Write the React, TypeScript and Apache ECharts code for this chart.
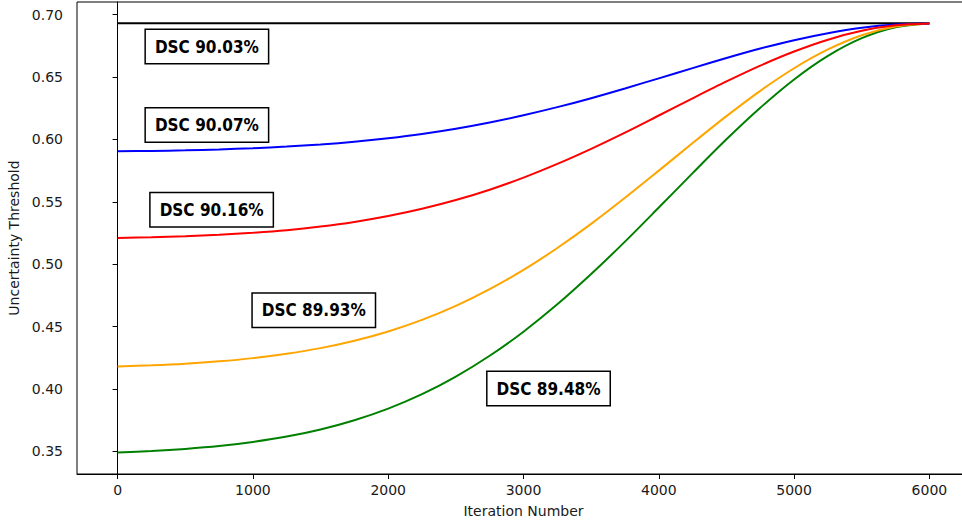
import React, { useEffect, useRef } from "react";
import * as echarts from "echarts";

const iterations = [0, 250, 500, 750, 1000, 1250, 1500, 1750, 2000, 2250, 2500, 2750, 3000, 3250, 3500, 3750, 4000, 4250, 4500, 4750, 5000, 5250, 5500, 5750, 6000];
const blackIterations = [0, 6000];
const blackValues = [0.6931, 0.6931];
const blueValues = [0.5905, 0.5908, 0.5913, 0.592, 0.593, 0.5943, 0.596, 0.5982, 0.601, 0.6044, 0.6086, 0.6136, 0.6194, 0.6259, 0.6331, 0.6409, 0.649, 0.6572, 0.6653, 0.6729, 0.6796, 0.6852, 0.6895, 0.6921, 0.693];
const redValues = [0.521, 0.5216, 0.5224, 0.5236, 0.5252, 0.5273, 0.5302, 0.5339, 0.5386, 0.5444, 0.5514, 0.5597, 0.5694, 0.5804, 0.5925, 0.6055, 0.6192, 0.633, 0.6465, 0.6592, 0.6705, 0.68, 0.6871, 0.6915, 0.693];
const orangeValues = [0.418, 0.4189, 0.4202, 0.4221, 0.4247, 0.4282, 0.4327, 0.4386, 0.4461, 0.4554, 0.4666, 0.48, 0.4954, 0.513, 0.5323, 0.5532, 0.575, 0.5971, 0.6187, 0.639, 0.6571, 0.6722, 0.6836, 0.6906, 0.693];
const greenValues = [0.349, 0.3502, 0.3519, 0.3542, 0.3575, 0.3618, 0.3675, 0.3749, 0.3842, 0.3958, 0.4099, 0.4266, 0.4459, 0.4678, 0.4921, 0.5181, 0.5454, 0.573, 0.6001, 0.6254, 0.6481, 0.667, 0.6812, 0.69, 0.693];

const xTicks = [0, 1000, 2000, 3000, 4000, 5000, 6000];
const yTicks = [0.35, 0.4, 0.45, 0.5, 0.55, 0.6, 0.65, 0.7];

const noteTexts = ["DSC 90.03%", "DSC 90.07%", "DSC 90.16%", "DSC 89.93%", "DSC 89.48%"];
const noteX = [660, 660, 695, 1450, 3185];
const noteY = [0.6745, 0.6115, 0.5437, 0.4631, 0.4003];

const pairs = (xs: number[], vals: number[]) => xs.map((x, i) => [x, vals[i]]);

export default function App() {
  const ref = useRef<HTMLDivElement>(null);
  useEffect(() => {
    if (!ref.current) return;
    const chart = echarts.init(ref.current, undefined, { renderer: "svg" });
    const lineSeries = (name: string, xs: number[], vals: number[], color: string) => ({
      name,
      type: "line",
      data: pairs(xs, vals),
      smooth: 0.3,
      showSymbol: false,
      symbol: "none",
      lineStyle: { color, width: 2 },
      itemStyle: { color },
      silent: true,
    });
    const axisText = { color: "#1a1a1a", fontFamily: "DejaVu Sans", fontSize: 14 };
    chart.setOption({
      animation: false,
      backgroundColor: "#ffffff",
      grid: {
        left: 77,
        top: 2,
        right: -8,
        bottom: 53,
        show: true,
        borderColor: "#000",
        borderWidth: 1,
        containLabel: false,
        outerBoundsMode: "none",
      },
      xAxis: {
        type: "value",
        min: -300,
        max: 6300,
        name: "Iteration Number",
        nameLocation: "middle",
        nameGap: 30,
        nameTextStyle: axisText,
        axisLine: { show: true, lineStyle: { color: "#000", width: 1 } },
        axisTick: { show: true, inside: false, length: 5, customValues: xTicks, lineStyle: { color: "#000" } },
        axisLabel: { ...axisText, margin: 9, customValues: xTicks, formatter: (v: number) => String(v) },
        splitLine: { show: false },
      },
      yAxis: {
        type: "value",
        min: 0.3318,
        max: 0.7102,
        name: "Uncertainty Threshold",
        nameLocation: "middle",
        nameGap: 53,
        nameRotate: 90,
        nameTextStyle: axisText,
        axisLine: { show: true, lineStyle: { color: "#000", width: 1 } },
        axisTick: { show: true, inside: false, length: 5, customValues: yTicks, lineStyle: { color: "#000" } },
        axisLabel: { ...axisText, margin: 14, customValues: yTicks, formatter: (v: number) => v.toFixed(2) },
        splitLine: { show: false },
      },
      series: [
        lineSeries("black", blackIterations, blackValues, "#000000"),
        lineSeries("green", iterations, greenValues, "#008000"),
        lineSeries("orange", iterations, orangeValues, "#ffa500"),
        lineSeries("blue", iterations, blueValues, "#0000ff"),
        lineSeries("red", iterations, redValues, "#ff0000"),
      ],
    });
    const notes = noteTexts.map((t, i) => {
      const [px, py] = chart.convertToPixel({ gridIndex: 0 }, [noteX[i], noteY[i]]) as number[];
      return {
        type: "text",
        x: px,
        y: py,
        z: 100,
        silent: true,
        style: {
          text: t,
          font: "bold 17px 'DejaVu Sans Condensed', 'DejaVu Sans'",
          fill: "#000000",
          align: "center",
          verticalAlign: "middle",
          backgroundColor: "#ffffff",
          borderColor: "#000000",
          borderWidth: 1.5,
          padding: [7, 9, 6, 9],
          lineHeight: 20,
        },
      };
    });
    chart.setOption({ graphic: notes });
    return () => chart.dispose();
  }, []);
  return (
    <div
      ref={ref}
      style={{ position: "fixed", left: 0, top: 0, width: 962, height: 527, overflow: "hidden" }}
    />
  );
}
